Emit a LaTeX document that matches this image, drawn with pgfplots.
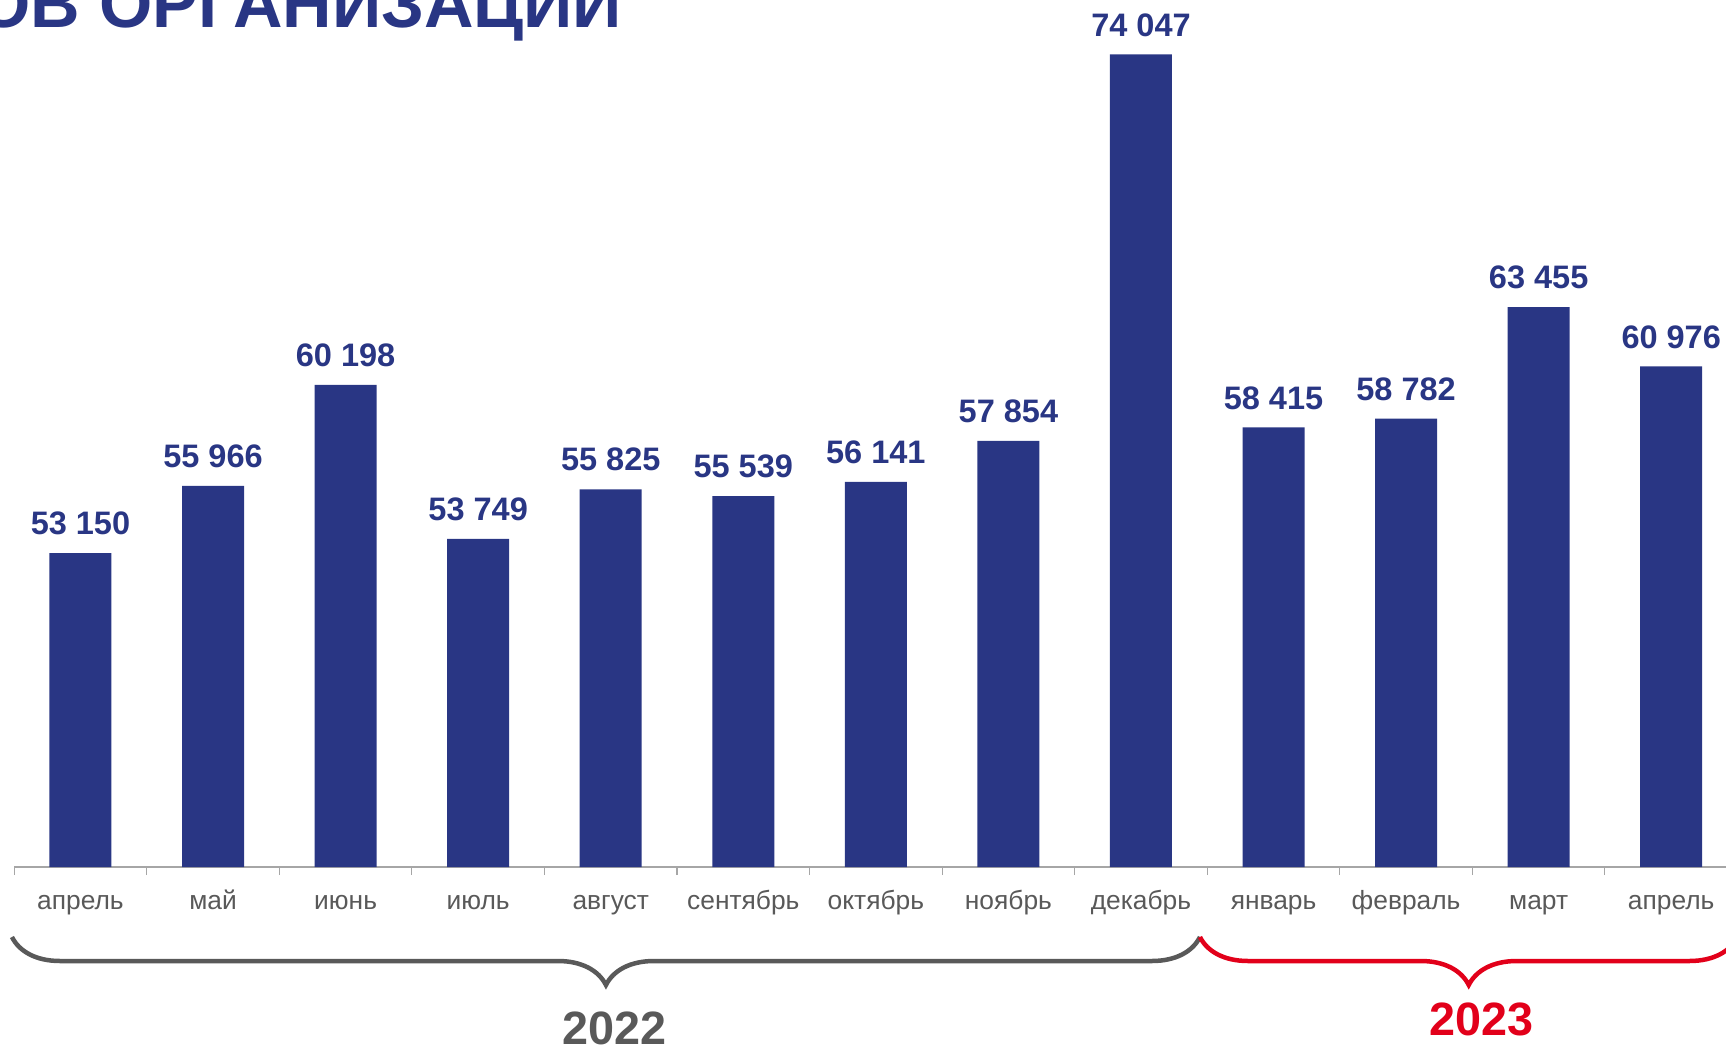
\documentclass[border=0pt]{standalone}
\usepackage{fontspec}
\setmainfont{Liberation Sans}
\usepackage{pgfplots}
\pgfplotsset{compat=1.18}
\usetikzlibrary{decorations.pathreplacing}

\definecolor{barblue}{RGB}{41,54,132}
\definecolor{labelgray}{RGB}{89,89,89}
\definecolor{axisgray}{RGB}{166,166,166}
\definecolor{yearred}{RGB}{226,0,26}

\begin{document}
\begin{tikzpicture}
% picture area in px (1px = 0.01cm), top of the slide is cut off
\path[use as bounding box] (0,0) rectangle (17.26,10.47);
\clip (0,0) rectangle (17.26,10.47);

\node[anchor=base east, inner sep=0pt, text=barblue,
      font=\bfseries\fontsize{19.5}{22}\selectfont]
  at (6.23,10.19) {СРЕДНЯЯ ЗАРАБОТНАЯ ПЛАТА РАБОТНИКОВ ОРГАНИЗАЦИЙ};

\begin{axis}[
  at={(0.142cm,1.80cm)}, anchor=south west,
  scale only axis,
  width=17.233cm, height=9.547cm,
  xmin=-0.5, xmax=12.5,
  ymin=40000, ymax=80000,
  ybar, bar width=0.62cm,
  separate axis lines,
  axis x line*=bottom,
  axis y line=none,
  x axis line style={-, draw=axisgray, line width=0.3pt},
  xtick={0,...,12},
  xticklabels={апрель, май, июнь, июль, август, сентябрь, октябрь, ноябрь, декабрь, январь, февраль, март, апрель},
  major tick length=0pt,
  tick style={draw=axisgray, line width=0.3pt},
  extra x ticks={-0.5,0.5,...,12.5},
  extra x tick labels={},
  extra x tick style={major tick length=0.08cm, tick align=outside},
  xticklabel style={font=\fontsize{7.5}{9}\selectfont, text=labelgray, anchor=base, yshift=-0.42cm},
  /pgf/number format/.cd, 1000 sep={\ }, assume math mode=true,
  /pgfplots/.cd,
  nodes near coords,
  every node near coord/.append style={font=\bfseries\fontsize{9.25}{11}\selectfont,
     text=barblue, inner sep=0pt, yshift=0.173cm},
  clip mode=individual,
]
\addplot[fill=barblue, draw=none] coordinates {
  (0,53150) (1,55966) (2,60198) (3,53749) (4,55825) (5,55539) (6,56141)
  (7,57854) (8,74047) (9,58415) (10,58782) (11,63455) (12,60976)};

% year braces
\draw[labelgray, line width=0.045cm, decorate, decoration={brace, mirror, amplitude=0.48cm}]
  ([yshift=-0.70cm]axis cs:-0.517,40000) -- ([yshift=-0.70cm]axis cs:8.445,40000);
\draw[yearred, line width=0.045cm, decorate, decoration={brace, mirror, amplitude=0.48cm}]
  ([yshift=-0.70cm]axis cs:8.445,40000) -- ([yshift=-0.70cm]axis cs:12.5,40000);

\node[anchor=base, inner sep=0pt, text=labelgray, font=\bfseries\fontsize{13.3}{15}\selectfont]
  at ([yshift=-1.777cm]axis cs:4.03,40000) {2022};
\node[anchor=base, inner sep=0pt, text=yearred, font=\bfseries\fontsize{13.3}{15}\selectfont]
  at ([yshift=-1.68cm]axis cs:10.57,40000) {2023};
\end{axis}
\end{tikzpicture}
\end{document}
